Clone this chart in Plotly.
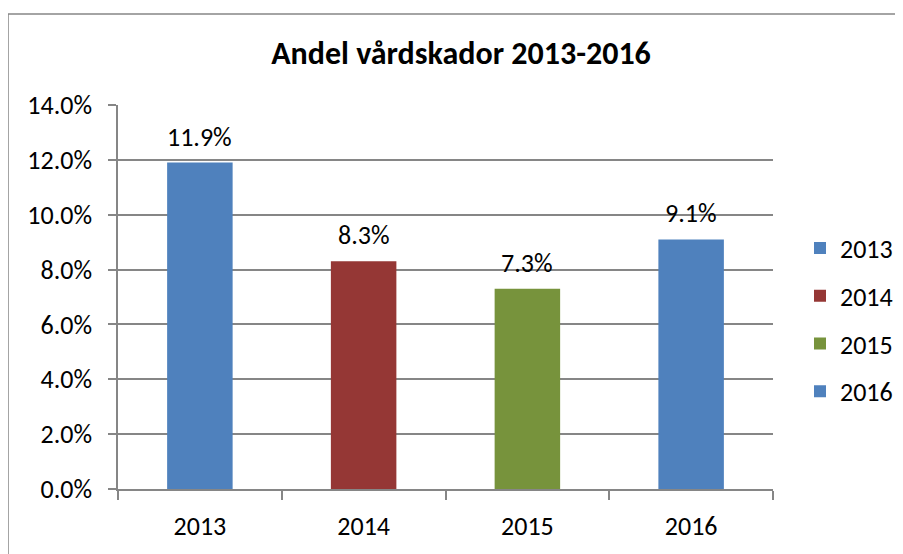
import plotly.graph_objects as go

years = ["2013", "2014", "2015", "2016"]
values = [0.119, 0.083, 0.073, 0.091]
colors = ["#4F81BD", "#953735", "#77933C", "#4F81BD"]
title_text = "Andel vårdskador 2013-2016"
y_ticks = [0, 0.02, 0.04, 0.06, 0.08, 0.10, 0.12, 0.14]

FONT = "Carlito, Calibri, Lato, sans-serif"
# the page body adds an 8px offset; the figure fills the rest of the window
OFF = 8
W, H = 903 - OFF, 554 - OFF
L, R = 118 - OFF, W - (773 - OFF)
T, B = 105 - OFF, H - (493 - OFF)
PW, PH = W - L - R, H - T - B

fig = go.Figure()
for i, (yr, v, c) in enumerate(zip(years, values, colors)):
    fig.add_trace(go.Bar(
        x=[yr], y=[v], name=yr, marker=dict(color=c, line=dict(width=0)),
        width=0.4, legendgroup=yr, hoverinfo="skip",
    ))
    fig.add_annotation(
        x=i, y=v, text=f"{v*100:.1f}%", showarrow=False,
        yanchor="bottom", yshift=8, font=dict(family=FONT, size=26, color="#000"),
    )

fig.update_layout(
    width=W, height=H,
    margin=dict(l=L, r=R, t=T, b=B),
    paper_bgcolor="white", plot_bgcolor="white",
    barmode="overlay",
    title=dict(text=f"<b>{title_text}</b>", x=(461 - OFF) / W, xanchor="center",
               y=1 - (53 - OFF) / H, yanchor="middle",
               font=dict(family=FONT, size=32, color="#000")),
    font=dict(family=FONT, size=26, color="#000"),
    showlegend=True,
    legend=dict(xref="container", yref="container",
                x=(800 - OFF) / W, xanchor="left", y=1 - (320 - OFF) / H, yanchor="middle",
                tracegroupgap=11, font=dict(family=FONT, size=26, color="#000"),
                bgcolor="rgba(0,0,0,0)"),
    xaxis=dict(
        type="category", categoryorder="array", categoryarray=years,
        range=[-0.5, 3.5], fixedrange=True,
        showgrid=False, showline=True, linecolor="#868686", linewidth=1.5,
        ticks="outside", tickson="boundaries", ticklen=9, tickcolor="#868686",
        tickwidth=1.5, ticklabelstandoff=13, tickangle=0,
        tickfont=dict(family=FONT, size=26, color="#000"),
    ),
    yaxis=dict(
        range=[0, 0.14], tickvals=y_ticks, tickformat=".1%",
        showgrid=True, gridcolor="#868686", gridwidth=1.5,
        showline=True, linecolor="#868686", linewidth=1.5,
        ticks="outside", ticklen=8, tickcolor="#868686", tickwidth=1.5,
        zeroline=False, ticklabelstandoff=11,
        tickfont=dict(family=FONT, size=26, color="#000"),
    ),
    shapes=[dict(type="rect", xref="paper", yref="paper",
                 x0=(8 - 118) / PW, x1=1.3, y0=-0.3, y1=(493 - 13) / PH,
                 line=dict(color="#868686", width=1.5), fillcolor="rgba(0,0,0,0)",
                 layer="below")],
)

fig.write_html("out.html")
